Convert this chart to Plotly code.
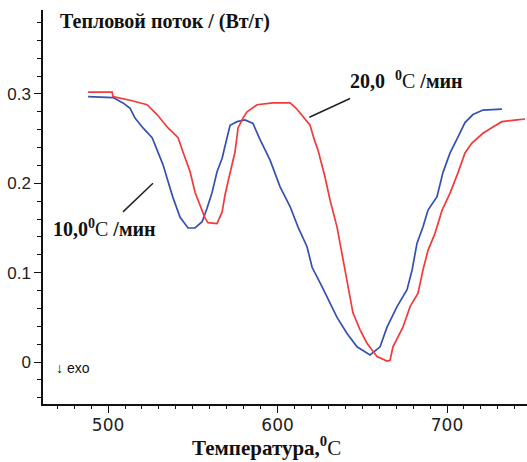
import plotly.graph_objects as go

# DSC curves: heat flow vs temperature at two heating rates
temp_10 = [488.2, 502.9, 508.8, 513.0, 515.9, 520.6, 526.0, 529.5, 532.4, 535.4, 538.3,
           542.5, 547.2, 551.3, 555.5, 558.4, 561.4, 564.3, 567.3, 570.2, 572.0, 576.1,
           580.8, 585.5, 589.7, 595.6, 601.5, 607.4, 612.1, 617.4, 620.4, 626.3, 631.0,
           635.1, 641.0, 646.9, 654.6, 660.5, 664.6, 670.5, 676.4, 679.4, 682.3, 685.8,
           688.8, 694.1, 697.6, 701.8, 706.5, 710.6, 715.3, 721.2, 732.4]
flow_10 = [0.297, 0.296, 0.290, 0.284, 0.273, 0.262, 0.251, 0.235, 0.221, 0.202, 0.184,
           0.162, 0.150, 0.150, 0.157, 0.172, 0.190, 0.213, 0.228, 0.251, 0.265, 0.269,
           0.271, 0.267, 0.249, 0.226, 0.196, 0.174, 0.151, 0.129, 0.106, 0.084, 0.066,
           0.050, 0.032, 0.017, 0.008, 0.017, 0.039, 0.062, 0.081, 0.103, 0.133, 0.151,
           0.170, 0.185, 0.212, 0.234, 0.252, 0.268, 0.277, 0.282, 0.283]

temp_20 = [488.2, 502.4, 502.9, 513.0, 523.0, 528.9, 535.4, 541.3, 544.2, 548.4, 551.3,
           554.3, 557.2, 559.0, 564.3, 567.3, 569.0, 570.8, 573.2, 574.9, 576.7, 579.6,
           582.0, 587.9, 597.3, 607.4, 611.0, 615.0, 619.2, 621.5, 623.9, 628.0, 631.0,
           635.1, 638.6, 641.6, 644.5, 648.7, 652.8, 658.7, 664.6, 666.4, 668.1, 674.0,
           678.2, 682.9, 685.8, 688.8, 692.9, 697.1, 701.8, 706.5, 710.6, 714.7, 721.2,
           727.1, 732.4, 741.3, 746.0]
flow_20 = [0.302, 0.302, 0.297, 0.293, 0.288, 0.277, 0.262, 0.251, 0.235, 0.213, 0.190,
           0.176, 0.161, 0.156, 0.155, 0.168, 0.187, 0.202, 0.223, 0.235, 0.262, 0.273,
           0.280, 0.288, 0.290, 0.290, 0.284, 0.275, 0.265, 0.250, 0.237, 0.207, 0.181,
           0.151, 0.114, 0.081, 0.055, 0.036, 0.021, 0.006, 0.001, 0.002, 0.017, 0.039,
           0.062, 0.077, 0.103, 0.125, 0.144, 0.170, 0.189, 0.212, 0.234, 0.245, 0.256,
           0.263, 0.269, 0.271, 0.272]

x_ticks = [500, 600, 700]
y_ticks = [0, 0.1, 0.2, 0.3]
y_tick_text = ["0", "0.1", "0.2", "0.3"]

BLUE = "#3550b0"
RED = "#f23a3a"
SERIF = "Liberation Serif, Times New Roman, serif"
SANS = "Liberation Sans, Arial, sans-serif"
WIDE_SANS = "DejaVu Sans, Verdana, sans-serif"

fig = go.Figure()
fig.add_trace(go.Scatter(x=temp_10, y=flow_10, mode="lines",
                         line=dict(color=BLUE, width=1.7), showlegend=False))
fig.add_trace(go.Scatter(x=temp_20, y=flow_20, mode="lines",
                         line=dict(color=RED, width=1.7), showlegend=False))

# leader lines for the heating-rate labels
fig.add_shape(type="line", x0=618.8, y0=0.274, x1=642.8, y1=0.295,
              xref="x", yref="y", line=dict(color="#222", width=1.5))
fig.add_shape(type="line", x0=508.8, y0=0.168, x1=526.5, y1=0.200,
              xref="x", yref="y", line=dict(color="#222", width=1.5))

annotations = [
    dict(x=641.5, y=0.316, xref="x", yref="y", xanchor="left", yanchor="middle",
         text="<b>20,0  <sup>0</sup></b>C <b>/мин</b>", showarrow=False,
         font=dict(family=SERIF, size=20, color="#111")),
    dict(x=466.5, y=0.150, xref="x", yref="y", xanchor="left", yanchor="middle",
         text="<b>10,0<sup>0</sup></b>C <b>/мин</b>", showarrow=False,
         font=dict(family=SERIF, size=20, color="#111")),
    dict(x=0.031, y=0.97, xref="paper", yref="paper", xanchor="left", yanchor="middle",
         text="<b>Тепловой поток / (Вт/г)</b>", showarrow=False,
         font=dict(family=SERIF, size=20, color="#111")),
    dict(x=0.023, y=-0.007, xref="paper", yref="y", xanchor="left", yanchor="middle",
         text="↓ exo", showarrow=False,
         font=dict(family=SANS, size=14, color="#111")),
    dict(x=(266 - 43) / 484, y=-0.108, xref="paper", yref="paper",
         xanchor="center", yanchor="middle",
         text="<b>Температура,<sup>0</sup></b>C", showarrow=False,
         font=dict(family=SERIF, size=21, color="#111")),
]

fig.update_layout(
    width=527, height=462,
    margin=dict(l=43, r=0, t=10, b=58),
    paper_bgcolor="white", plot_bgcolor="white",
    annotations=annotations,
    xaxis=dict(
        range=[461.6, 747.2], tickvals=x_ticks, showgrid=False, zeroline=False,
        showline=True, linecolor="#111", linewidth=1.5,
        ticks="outside", ticklen=7, tickwidth=1.2, tickcolor="#111",
        ticklabelstandoff=-2,
        tickfont=dict(family=WIDE_SANS, size=17, color="#222"),
        minor=dict(dtick=10, ticks="outside", ticklen=3, tickcolor="#111", showgrid=False),
    ),
    yaxis=dict(
        range=[-0.047, 0.394], tickvals=y_ticks, ticktext=y_tick_text,
        showgrid=False, zeroline=False,
        showline=True, linecolor="#111", linewidth=1.5,
        ticks="outside", ticklen=7, tickwidth=1.2, tickcolor="#111",
        tickfont=dict(family=SANS, size=17, color="#222"),
        minor=dict(dtick=0.02, ticks="outside", ticklen=4, tickcolor="#111", showgrid=False),
    ),
)

fig.write_html("out.html")
